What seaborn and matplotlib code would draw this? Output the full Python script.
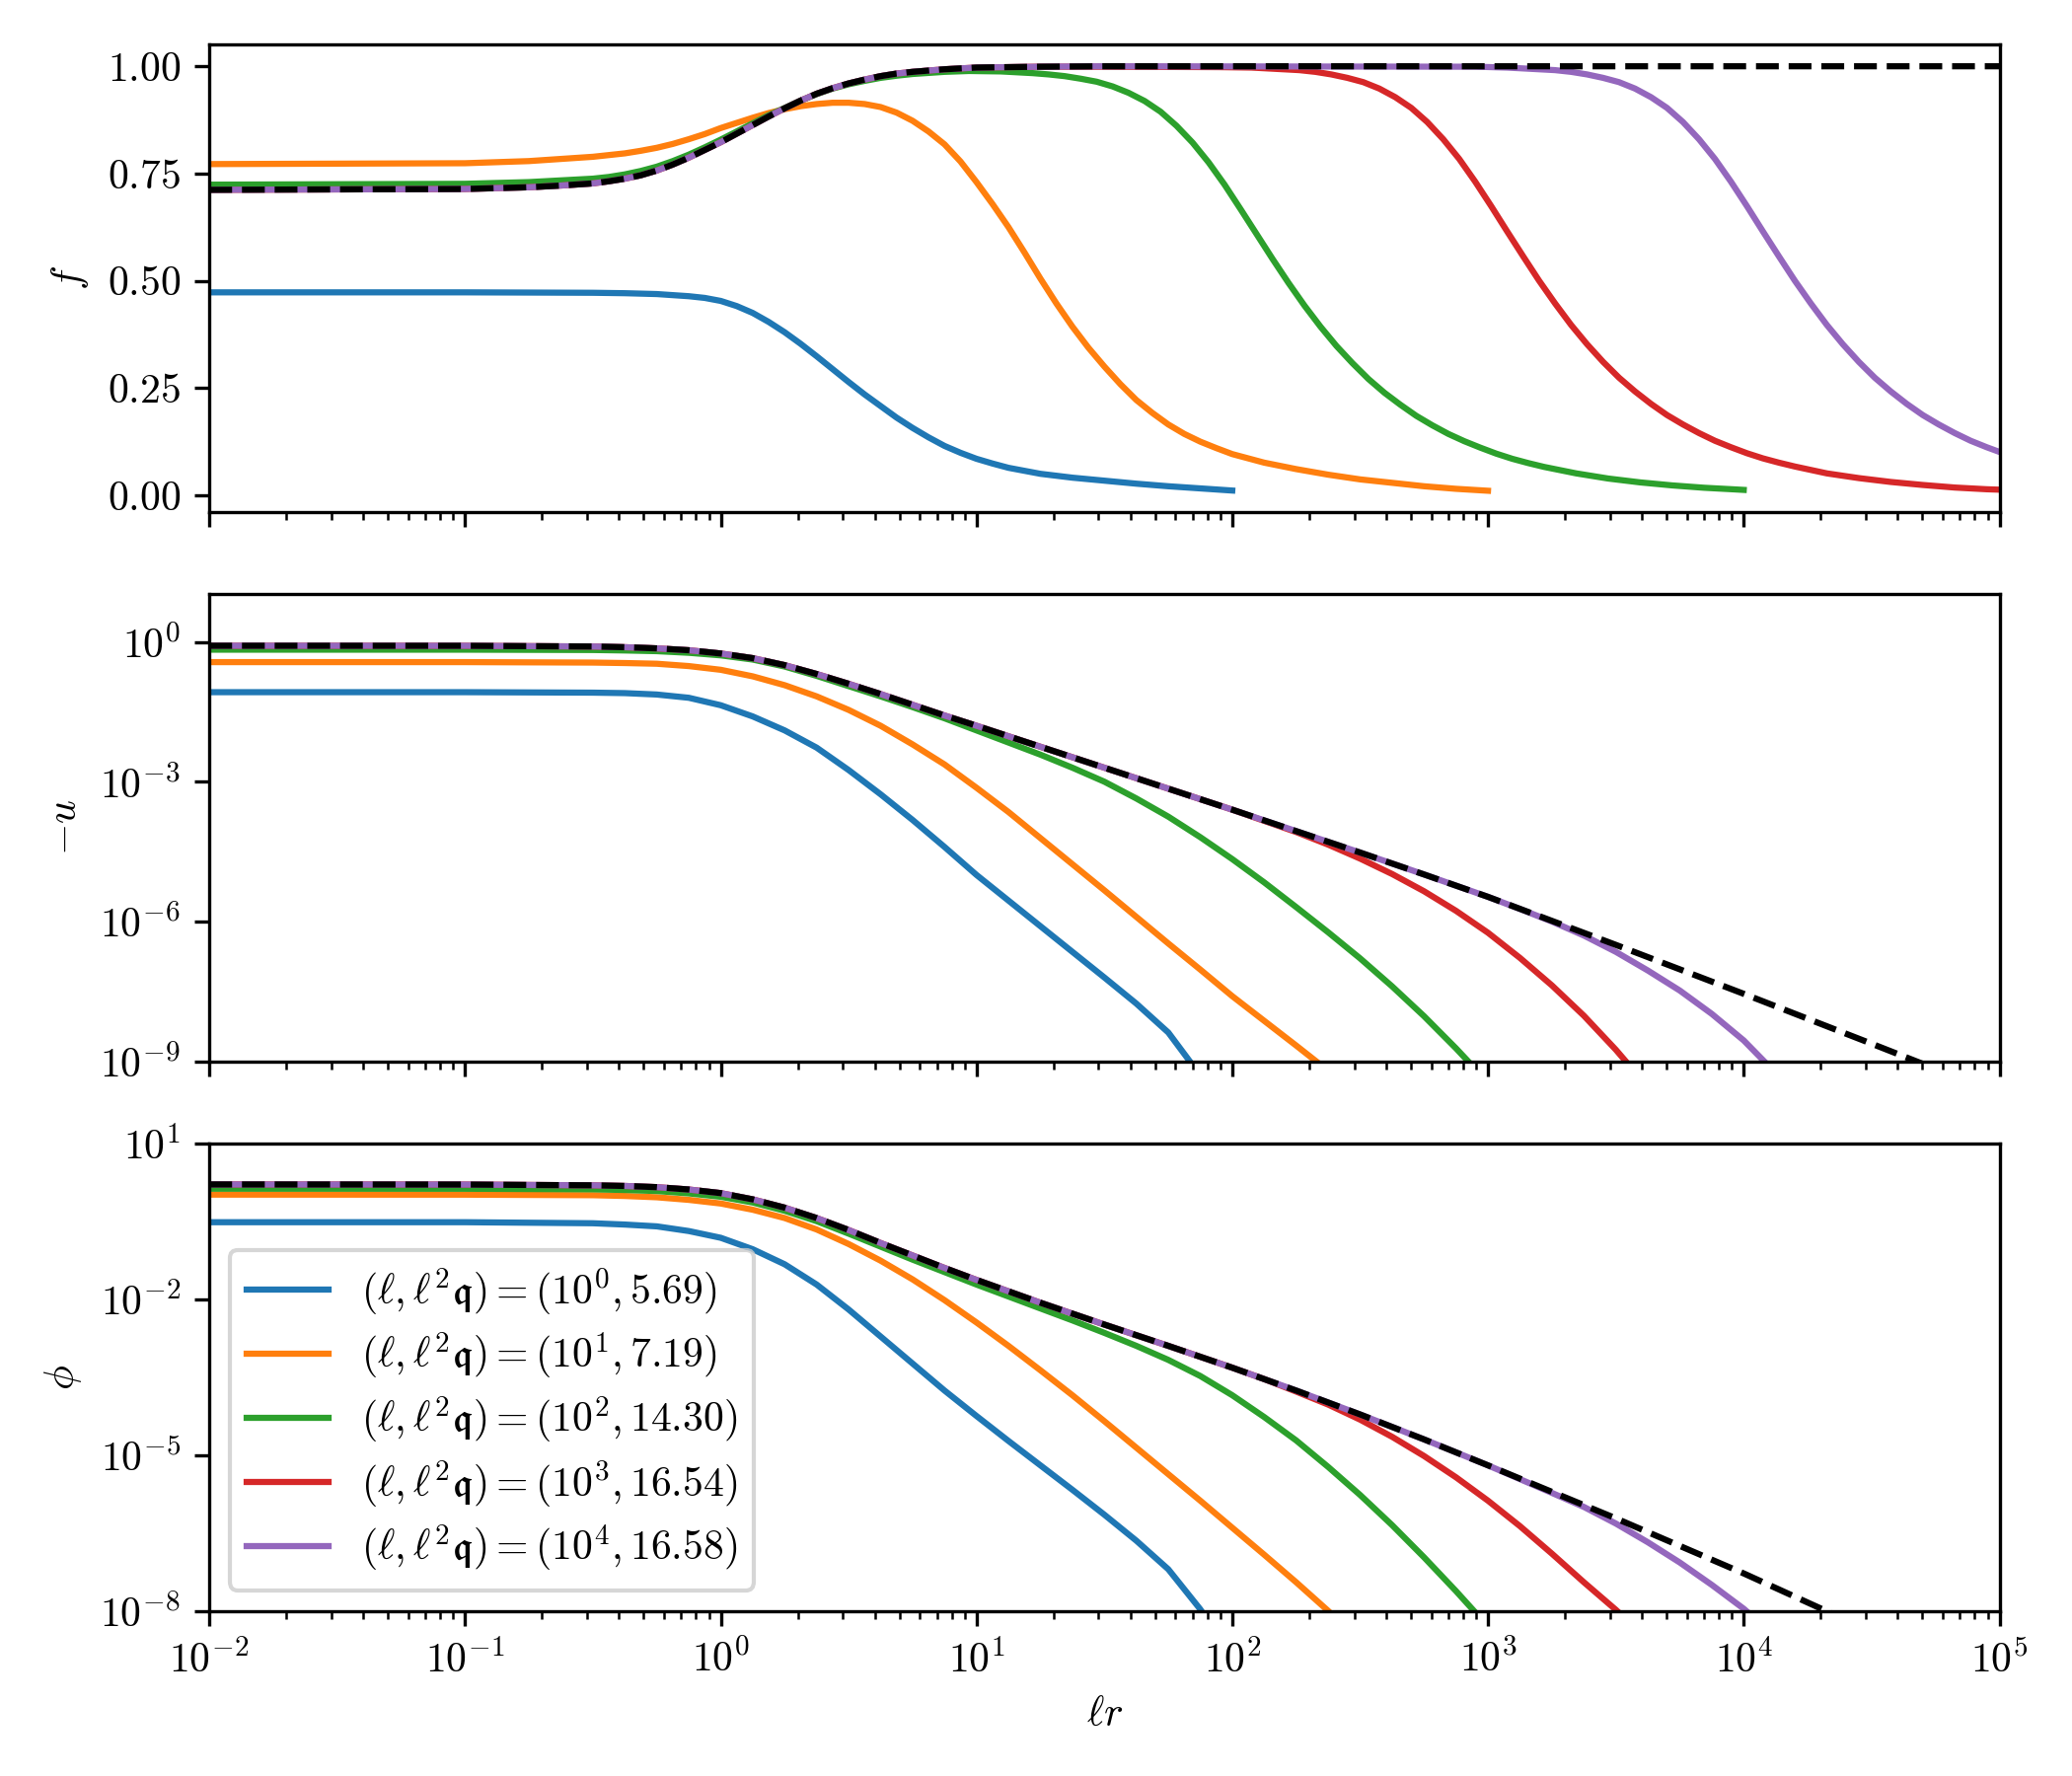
import numpy as np
import pandas as pd
import seaborn as sns
import matplotlib.pyplot as plt
from matplotlib.ticker import NullLocator

plt.rcParams['font.family'] = 'serif'
plt.rcParams['font.serif'] = ['cmr10']
plt.rcParams['mathtext.fontset'] = 'cm'
plt.rcParams['axes.formatter.use_mathtext'] = True

labels = [r'$(\ell, \ell^2\mathfrak{q}) = (10^0, 5.69)$',
          r'$(\ell, \ell^2\mathfrak{q}) = (10^1, 7.19)$',
          r'$(\ell, \ell^2\mathfrak{q}) = (10^2, 14.30)$',
          r'$(\ell, \ell^2\mathfrak{q}) = (10^3, 16.54)$',
          r'$(\ell, \ell^2\mathfrak{q}) = (10^4, 16.58)$']
colors = sns.color_palette('tab10', 5)

# x values are given as log10(ell*r)

# ---- top panel: f ----
f_ref_lx = [-2, -1, -0.75, -0.625, -0.5, -0.4375, -0.375, -0.3125, -0.25, -0.1875, -0.125, -0.0625, 0, 0.0625, 0.125, 0.1875,
            0.25, 0.3125, 0.375, 0.4375, 0.5, 0.5625, 0.625, 0.6875, 0.75, 0.875, 1.0, 1.25, 1.5, 5]
f_ref = [0.712, 0.714, 0.718, 0.722, 0.727, 0.732, 0.738, 0.746, 0.757, 0.771, 0.787, 0.805, 0.823, 0.843, 0.863, 0.883,
         0.902, 0.92, 0.936, 0.949, 0.96, 0.969, 0.977, 0.983, 0.987, 0.993, 0.997, 0.999, 1.0, 1.0]

f_blue_lx = [-2, -1, -0.5, -0.375, -0.25, -0.125, -0.0625, 0, 0.0625, 0.125, 0.1875, 0.25, 0.3125, 0.375, 0.4375, 0.5, 0.5625,
             0.625, 0.6875, 0.75, 0.8125, 0.875, 0.9375, 1.0, 1.0625, 1.125, 1.1875, 1.25, 1.375, 1.5, 1.625, 1.75, 1.875, 2.0]
f_blue = [0.473, 0.473, 0.472, 0.471, 0.469, 0.464, 0.46, 0.453, 0.441, 0.425, 0.404, 0.38, 0.353, 0.324, 0.294, 0.264, 0.235,
          0.208, 0.181, 0.157, 0.135, 0.115, 0.099, 0.085, 0.074, 0.064, 0.057, 0.05, 0.041, 0.034, 0.027, 0.021, 0.016, 0.011]

f_orange_lx = [-2, -1, -0.75, -0.5, -0.375, -0.3125, -0.25, -0.1875, -0.125, -0.0625, 0, 0.0625, 0.125, 0.1875, 0.25, 0.3125,
               0.375, 0.4375, 0.5, 0.5625, 0.625, 0.6875, 0.75, 0.8125, 0.875, 0.9375, 1.0, 1.0625, 1.125, 1.1875, 1.25,
               1.3125, 1.375, 1.4375, 1.5, 1.5625, 1.625, 1.6875, 1.75, 1.8125, 1.875, 1.9375, 2.0, 2.125, 2.25, 2.375,
               2.5, 2.625, 2.75, 2.875, 3.0]
f_orange = [0.772, 0.774, 0.779, 0.789, 0.797, 0.803, 0.81, 0.819, 0.83, 0.842, 0.856, 0.868, 0.88, 0.891, 0.9, 0.907,
            0.912, 0.915, 0.915, 0.912, 0.905, 0.892, 0.873, 0.848, 0.818, 0.778, 0.73, 0.679, 0.625, 0.566, 0.505,
            0.447, 0.393, 0.344, 0.3, 0.259, 0.222, 0.192, 0.165, 0.143, 0.125, 0.11, 0.096, 0.076, 0.061, 0.048,
            0.037, 0.029, 0.021, 0.015, 0.0105]

f_green_lx = [-2, -1, -0.75, -0.5, -0.4375, -0.375, -0.3125, -0.25, -0.1875, -0.125, -0.0625, 0, 0.0625, 0.125, 0.1875, 0.25,
              0.3125, 0.375, 0.4375, 0.5, 0.5625, 0.625, 0.6875, 0.75, 0.875, 0.97, 1.095, 1.1575, 1.22, 1.2825, 1.345,
              1.4075, 1.47, 1.5325, 1.595, 1.6575, 1.72, 1.7825, 1.845, 1.9075, 1.97, 2.0325, 2.095, 2.1575, 2.22, 2.2825,
              2.345, 2.4075, 2.47, 2.5325, 2.595, 2.6575, 2.72, 2.7825, 2.845, 2.9075, 2.97, 3.0325, 3.095, 3.1575, 3.22,
              3.345, 3.47, 3.595, 3.72, 3.845, 3.97, 4.0]
f_green = [0.724, 0.726, 0.73, 0.738, 0.742, 0.748, 0.756, 0.766, 0.779, 0.794, 0.811, 0.829, 0.848, 0.867, 0.886, 0.903,
           0.92, 0.935, 0.948, 0.958, 0.966, 0.973, 0.978, 0.982, 0.987, 0.989, 0.988, 0.986, 0.984, 0.981, 0.977,
           0.971, 0.964, 0.953, 0.938, 0.919, 0.894, 0.861, 0.822, 0.776, 0.724, 0.667, 0.609, 0.551, 0.495, 0.442,
           0.393, 0.348, 0.308, 0.271, 0.239, 0.211, 0.185, 0.163, 0.143, 0.126, 0.111, 0.097, 0.085, 0.075, 0.066,
           0.051, 0.039, 0.03, 0.023, 0.0175, 0.0135, 0.0125]

f_red_lx = [-2, -1, -0.75, -0.625, -0.5, -0.4375, -0.375, -0.3125, -0.25, -0.1875, -0.125, -0.0625, 0, 0.0625, 0.125, 0.1875,
            0.25, 0.3125, 0.375, 0.4375, 0.5, 0.5625, 0.625, 0.6875, 0.75, 0.875, 1.0, 1.25, 1.5, 1.95, 2.075, 2.2, 2.2625,
            2.325, 2.3875, 2.45, 2.5125, 2.575, 2.6375, 2.7, 2.7625, 2.825, 2.8875, 2.95, 3.0125, 3.075, 3.1375, 3.2,
            3.2625, 3.325, 3.3875, 3.45, 3.5125, 3.575, 3.6375, 3.7, 3.7625, 3.825, 3.8875, 3.95, 4.0125, 4.075, 4.1375,
            4.2, 4.325, 4.45, 4.575, 4.7, 4.825, 4.95, 5.0]
f_red = [0.712, 0.714, 0.718, 0.722, 0.727, 0.732, 0.738, 0.746, 0.757, 0.771, 0.787, 0.805, 0.823, 0.843, 0.863, 0.883,
         0.902, 0.92, 0.936, 0.949, 0.96, 0.969, 0.977, 0.983, 0.987, 0.993, 0.997, 0.999, 0.999, 0.998, 0.997, 0.993, 0.991,
         0.987, 0.981, 0.973, 0.963, 0.948, 0.928, 0.903, 0.87, 0.83, 0.784, 0.731, 0.674, 0.615, 0.557, 0.5,
         0.447, 0.397, 0.352, 0.311, 0.274, 0.242, 0.213, 0.187, 0.165, 0.145, 0.127, 0.112, 0.098, 0.086, 0.076,
         0.067, 0.051, 0.04, 0.031, 0.024, 0.018, 0.014, 0.013]

f_purple_lx = [-2, -1, -0.75, -0.625, -0.5, -0.4375, -0.375, -0.3125, -0.25, -0.1875, -0.125, -0.0625, 0, 0.0625, 0.125, 0.1875,
               0.25, 0.3125, 0.375, 0.4375, 0.5, 0.5625, 0.625, 0.6875, 0.75, 0.875, 1.0, 1.25, 1.5, 2.95, 3.075, 3.2, 3.2625,
               3.325, 3.3875, 3.45, 3.5125, 3.575, 3.6375, 3.7, 3.7625, 3.825, 3.8875, 3.95, 4.0125, 4.075, 4.1375, 4.2,
               4.2625, 4.325, 4.3875, 4.45, 4.5125, 4.575, 4.6375, 4.7, 4.7625, 4.825, 4.8875, 4.95, 5.0]
f_purple = [0.712, 0.714, 0.718, 0.722, 0.727, 0.732, 0.738, 0.746, 0.757, 0.771, 0.787, 0.805, 0.823, 0.843, 0.863, 0.883,
            0.902, 0.92, 0.936, 0.949, 0.96, 0.969, 0.977, 0.983, 0.987, 0.993, 0.997, 0.999, 1.0, 0.999, 0.997, 0.993, 0.991,
            0.987, 0.981, 0.973, 0.963, 0.948, 0.928, 0.903, 0.87, 0.83, 0.784, 0.731, 0.674, 0.615, 0.557, 0.5,
            0.447, 0.397, 0.352, 0.311, 0.274, 0.242, 0.213, 0.187, 0.165, 0.145, 0.127, 0.112, 0.101]

# ---- middle panel: -u, values as log10 ----
u_ref_lx = [-2, -1, -0.5, -0.375, -0.25, -0.125, 0, 0.125, 0.25, 0.375, 0.5, 0.625, 0.75, 0.875, 1.0, 1.25, 1.5, 1.75, 2.0,
            2.25, 2.5, 2.75, 3.0, 3.5, 4.0, 4.5, 5.0]
u_ref_exp = [-0.084, -0.085, -0.1, -0.115, -0.14, -0.18, -0.25, -0.35, -0.5, -0.69, -0.9, -1.12, -1.35, -1.58, -1.8, -2.25, -2.7, -3.15, -3.6,
             -4.06, -4.52, -4.99, -5.47, -6.5, -7.55, -8.62, -9.7]

u_blue_lx = [-2, -1, -0.5, -0.375, -0.25, -0.125, 0, 0.125, 0.25, 0.375, 0.5, 0.625, 0.75, 0.875, 1.0, 1.125, 1.25, 1.375, 1.5,
             1.625, 1.75, 1.875, 2.0]
u_blue_exp = [-1.08, -1.08, -1.09, -1.1, -1.13, -1.2, -1.36, -1.6, -1.9, -2.27, -2.75, -3.27, -3.82, -4.4, -5.0, -5.55, -6.1, -6.65, -7.2,
              -7.76, -8.38, -9.3, -10.3]

u_orange_lx = [-2, -1, -0.5, -0.375, -0.25, -0.125, 0, 0.125, 0.25, 0.375, 0.5, 0.625, 0.75, 0.875, 1.0, 1.125, 1.25, 1.375, 1.5,
               1.625, 1.75, 1.875, 2.0, 2.125, 2.25, 2.375, 2.5]
u_orange_exp = [-0.435, -0.435, -0.445, -0.455, -0.47, -0.52, -0.6, -0.74, -0.93, -1.17, -1.46, -1.8, -2.2, -2.63, -3.13, -3.65, -4.21, -4.77, -5.33,
                -5.9, -6.47, -7.03, -7.6, -8.13, -8.66, -9.2, -9.75]

u_green_lx = [-2, -1, -0.5, -0.375, -0.25, -0.125, 0, 0.125, 0.25, 0.375, 0.5, 0.625, 0.75, 0.875, 1.0, 1.125, 1.25, 1.375, 1.5,
              1.625, 1.75, 1.875, 2.0, 2.125, 2.25, 2.375, 2.5, 2.625, 2.75, 2.875, 3.0]
u_green_exp = [-0.168, -0.168, -0.175, -0.185, -0.2, -0.235, -0.29, -0.38, -0.53, -0.73, -0.95, -1.17, -1.4, -1.64, -1.9, -2.16, -2.42, -2.7, -3.0,
               -3.36, -3.75, -4.19, -4.66, -5.16, -5.69, -6.23, -6.79, -7.39, -8.03, -8.72, -9.45]

u_red_lx = [-2, -1, -0.5, -0.375, -0.25, -0.125, 0, 0.125, 0.25, 0.375, 0.5, 0.625, 0.75, 0.875, 1.0, 1.25, 1.5, 1.75, 2.0,
            2.125, 2.25, 2.375, 2.5, 2.625, 2.75, 2.875, 3.0, 3.125, 3.25, 3.375, 3.5, 3.625]
u_red_exp = [-0.084, -0.085, -0.1, -0.115, -0.14, -0.18, -0.25, -0.35, -0.5, -0.69, -0.9, -1.12, -1.35, -1.58, -1.8, -2.25, -2.7, -3.15, -3.6,
             -3.84, -4.08, -4.35, -4.65, -4.98, -5.35, -5.77, -6.24, -6.78, -7.37, -8.02, -8.75, -9.55]

u_purple_lx = [-2, -1, -0.5, -0.375, -0.25, -0.125, 0, 0.125, 0.25, 0.375, 0.5, 0.625, 0.75, 0.875, 1.0, 1.25, 1.5, 1.75, 2.0,
               2.25, 2.5, 2.75, 3.0, 3.125, 3.25, 3.375, 3.5, 3.625, 3.75, 3.875, 4.0, 4.125]
u_purple_exp = [-0.084, -0.085, -0.1, -0.115, -0.14, -0.18, -0.25, -0.35, -0.5, -0.69, -0.9, -1.12, -1.35, -1.58, -1.8, -2.25, -2.7, -3.15, -3.6,
                -4.06, -4.52, -4.99, -5.47, -5.73, -6.0, -6.3, -6.65, -7.05, -7.48, -7.98, -8.55, -9.25]

# ---- bottom panel: phi, values as log10 ----
p_ref_lx = [-2, -1, -0.5, -0.375, -0.25, -0.125, 0, 0.125, 0.25, 0.375, 0.5, 0.625, 0.75, 0.875, 1.0, 1.25, 1.5, 1.75, 2.0,
            2.25, 2.5, 2.75, 3.0, 3.5, 4.0, 4.5, 5.0]
p_ref_exp = [0.207, 0.205, 0.19, 0.178, 0.155, 0.11, 0.04, -0.08, -0.24, -0.44, -0.67, -0.92, -1.16, -1.4, -1.63, -2.07, -2.49, -2.9, -3.32,
             -3.76, -4.22, -4.7, -5.2, -6.22, -7.28, -8.4, -9.52]

p_blue_lx = [-2, -1, -0.5, -0.375, -0.25, -0.125, 0, 0.125, 0.25, 0.375, 0.5, 0.625, 0.75, 0.875, 1.0, 1.125, 1.25, 1.375, 1.5,
             1.625, 1.75, 1.875, 2.0]
p_blue_exp = [-0.52, -0.52, -0.54, -0.565, -0.6, -0.69, -0.82, -1.04, -1.33, -1.72, -2.2, -2.72, -3.24, -3.76, -4.25, -4.73, -5.2, -5.67, -6.15,
              -6.65, -7.2, -7.97, -8.9]

p_orange_lx = [-2, -1, -0.5, -0.375, -0.25, -0.125, 0, 0.125, 0.25, 0.375, 0.5, 0.625, 0.75, 0.875, 1.0, 1.125, 1.25, 1.375, 1.5,
               1.625, 1.75, 1.875, 2.0, 2.125, 2.25, 2.375, 2.5]
p_orange_exp = [0.011, 0.01, 0.0, -0.015, -0.04, -0.09, -0.16, -0.28, -0.44, -0.66, -0.94, -1.26, -1.62, -2.02, -2.45, -2.9, -3.37, -3.85, -4.35,
                -4.86, -5.37, -5.88, -6.4, -6.92, -7.45, -8.0, -8.6]

p_green_lx = [-2, -1, -0.5, -0.375, -0.25, -0.125, 0, 0.125, 0.25, 0.375, 0.5, 0.625, 0.75, 0.875, 1.0, 1.125, 1.25, 1.375, 1.5,
              1.625, 1.75, 1.875, 2.0, 2.125, 2.25, 2.375, 2.5, 2.625, 2.75, 2.875, 3.0]
p_green_exp = [0.125, 0.124, 0.113, 0.1, 0.08, 0.035, -0.03, -0.14, -0.3, -0.5, -0.74, -0.99, -1.24, -1.48, -1.72, -1.95, -2.18, -2.41, -2.65,
               -2.9, -3.17, -3.48, -3.85, -4.27, -4.72, -5.23, -5.77, -6.35, -6.97, -7.62, -8.3]

p_red_lx = [-2, -1, -0.5, -0.375, -0.25, -0.125, 0, 0.125, 0.25, 0.375, 0.5, 0.625, 0.75, 0.875, 1.0, 1.25, 1.5, 1.75, 2.0,
            2.125, 2.25, 2.375, 2.5, 2.625, 2.75, 2.875, 3.0, 3.125, 3.25, 3.375, 3.5, 3.625]
p_red_exp = [0.207, 0.205, 0.19, 0.178, 0.155, 0.11, 0.04, -0.08, -0.24, -0.44, -0.67, -0.92, -1.16, -1.4, -1.63, -2.07, -2.49, -2.9, -3.32,
             -3.54, -3.78, -4.03, -4.32, -4.65, -5.02, -5.43, -5.88, -6.37, -6.9, -7.45, -7.98, -8.55]

p_purple_lx = [-2, -1, -0.5, -0.375, -0.25, -0.125, 0, 0.125, 0.25, 0.375, 0.5, 0.625, 0.75, 0.875, 1.0, 1.25, 1.5, 1.75, 2.0,
               2.25, 2.5, 2.75, 3.0, 3.25, 3.375, 3.5, 3.625, 3.75, 3.875, 4.0, 4.125]
p_purple_exp = [0.207, 0.205, 0.19, 0.178, 0.155, 0.11, 0.04, -0.08, -0.24, -0.44, -0.67, -0.92, -1.16, -1.4, -1.63, -2.07, -2.49, -2.9, -3.32,
                -3.76, -4.22, -4.7, -5.2, -5.73, -6.0, -6.32, -6.68, -7.07, -7.5, -7.96, -8.5]


def make_frame(series, log_values):
    rows = []
    for lab, (lx, vals) in zip(labels, series):
        assert len(lx) == len(vals), lab
        for a, b in zip(lx, vals):
            rows.append({'r': 10.0 ** a, 'val': 10.0 ** b if log_values else b, 'case': lab})
    return pd.DataFrame(rows)


panels = [
    ([(f_blue_lx, f_blue), (f_orange_lx, f_orange), (f_green_lx, f_green), (f_red_lx, f_red), (f_purple_lx, f_purple)],
     (f_ref_lx, f_ref), False),
    ([(u_blue_lx, u_blue_exp), (u_orange_lx, u_orange_exp), (u_green_lx, u_green_exp), (u_red_lx, u_red_exp),
      (u_purple_lx, u_purple_exp)], (u_ref_lx, u_ref_exp), True),
    ([(p_blue_lx, p_blue_exp), (p_orange_lx, p_orange_exp), (p_green_lx, p_green_exp), (p_red_lx, p_red_exp),
      (p_purple_lx, p_purple_exp)], (p_ref_lx, p_ref_exp), True),
]

fig, axes = plt.subplots(3, 1, sharex=True, figsize=(7, 6), dpi=300)
fig.subplots_adjust(left=0.101, right=0.965, top=0.975, bottom=0.093, hspace=0.175)

for ax, (series, ref, logv) in zip(axes, panels):
    df = make_frame(series, logv)
    sns.lineplot(data=df, x='r', y='val', hue='case', hue_order=labels, palette=colors,
                 estimator=None, sort=False, legend=False, lw=1.5, ax=ax)
    assert len(ref[0]) == len(ref[1])
    ref_x = [10.0 ** a for a in ref[0]]
    ref_y = [10.0 ** b for b in ref[1]] if logv else ref[1]
    sns.lineplot(x=ref_x, y=ref_y, color='k', linestyle='--', lw=1.5, estimator=None, sort=False, ax=ax)
    ax.set_xscale('log')
    if logv:
        ax.set_yscale('log')
    ax.set_xlabel('')

axes[0].set_ylim(-0.039, 1.051)
axes[0].set_yticks([0.0, 0.25, 0.5, 0.75, 1.0])
axes[0].set_ylabel(r'$f$')

axes[1].set_ylim(1e-9, 10 ** 1.03)
axes[1].set_yticks([1e0, 1e-3, 1e-6, 1e-9])
axes[1].yaxis.set_minor_locator(NullLocator())
axes[1].set_ylabel(r'$-u$')

axes[2].set_ylim(1e-8, 1e1)
axes[2].set_yticks([1e1, 1e-2, 1e-5, 1e-8])
axes[2].yaxis.set_minor_locator(NullLocator())
axes[2].set_ylabel(r'$\phi$')

axes[2].set_xlim(1e-2, 1e5)
axes[2].set_xlabel(r'$\ell r$')

axes[2].legend(axes[2].lines[:5], labels, loc='lower left', labelspacing=0.33)

fig.savefig('out.png', dpi=300)
